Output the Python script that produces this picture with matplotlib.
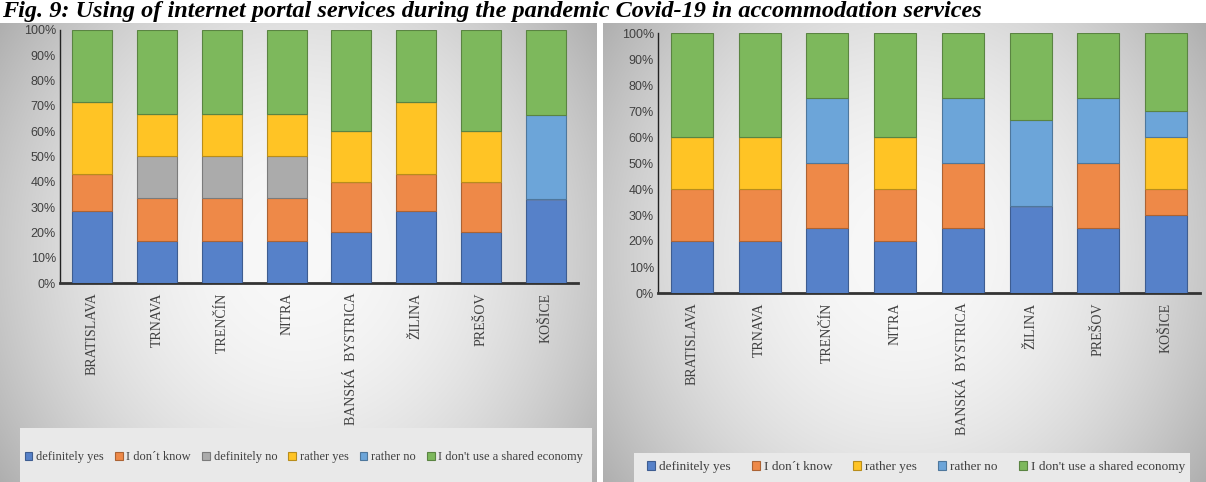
import numpy as np
import matplotlib
matplotlib.use("Agg")
import matplotlib.pyplot as plt
from matplotlib.patches import Rectangle
from matplotlib.colors import to_rgb

# ---------------- data ----------------
regions = ["BRATISLAVA", "TRNAVA", "TRENČÍN", "NITRA", "BANSKÁ  BYSTRICA",
           "ŽILINA", "PREŠOV", "KOŠICE"]

# left chart (percent)
left_definitely_yes = [28.6, 16.7, 16.7, 16.7, 20.0, 28.6, 20.0, 33.3]
left_dont_know      = [14.3, 16.7, 16.7, 16.7, 20.0, 14.3, 20.0, 0.0]
left_definitely_no  = [0.0, 16.7, 16.7, 16.7, 0.0, 0.0, 0.0, 0.0]
left_rather_yes     = [28.6, 16.7, 16.7, 16.7, 20.0, 28.6, 20.0, 0.0]
left_rather_no      = [0.0, 0.0, 0.0, 0.0, 0.0, 0.0, 0.0, 33.3]
left_dont_use       = [28.6, 33.3, 33.3, 33.3, 40.0, 28.6, 40.0, 33.3]

# right chart (percent)
right_definitely_yes = [20, 20, 25, 20, 25, 33.3, 25, 30]
right_dont_know      = [20, 20, 25, 20, 25, 0, 25, 10]
right_rather_yes     = [20, 20, 0, 20, 0, 0, 0, 20]
right_rather_no      = [0, 0, 25, 0, 25, 33.3, 25, 10]
right_dont_use       = [40, 40, 25, 40, 25, 33.3, 25, 30]

yticks = [0, 10, 20, 30, 40, 50, 60, 70, 80, 90, 100]
ytick_labels = [f"{v}%" for v in yticks]

title = "Fig. 9: Using of internet portal services during the pandemic Covid-19 in accommodation services"

# ---------------- style ----------------
C_BLUE = "#5681C9"
C_ORANGE = "#EE8948"
C_GRAY = "#ABABAB"
C_YELLOW = "#FFC425"
C_LBLUE = "#6CA5D9"
C_GREEN = "#7DB85C"

def darker(c, f=0.72):
    r, g, b = to_rgb(c)
    return (r * f, g * f, b * f)

W, H = 1206, 482
fig = plt.figure(figsize=(W / 100, H / 100), dpi=100)

# background with gradient panels
bg = fig.add_axes([0, 0, 1, 1])
bg.axis("off")

def panel(x0, x1, y0, y1):
    nx, ny = int(x1 - x0), int(y1 - y0)
    xs = np.linspace(-1, 1, nx)
    ys = np.linspace(-1, 1, ny)
    X, Y = np.meshgrid(xs, ys)
    r2 = (X * 1.0) ** 2 * 0.8 + (Y * 0.9) ** 2 * 0.5
    g = np.clip(0.975 - 0.24 * r2, 0, 1)
    img = np.dstack([g, g, g])
    bg.imshow(img, extent=[x0, x1, y1, y0], aspect="auto", zorder=0)

panel(0, 597, 23, 482)
panel(603, 1206, 23, 482)
bg.set_xlim(0, W)
bg.set_ylim(H, 0)

# legend boxes
bg.add_patch(Rectangle((20, 428), 572, 54, facecolor="#e9e9e9", edgecolor="none", zorder=1))
bg.add_patch(Rectangle((634, 453), 556, 29, facecolor="#e9e9e9", edgecolor="none", zorder=1))

fig.text(2 / W, 1 - 17 / H, title, fontsize=17.5, fontfamily="Liberation Serif",
         fontweight="bold", fontstyle="italic", va="baseline", ha="left", color="#000000")

def draw(ax_rect, series, names, colors):
    ax = fig.add_axes(ax_rect)
    ax.patch.set_alpha(0)
    x = np.arange(len(regions))
    bottom = np.zeros(len(regions))
    handles = []
    for vals, name, col in zip(series, names, colors):
        v = np.array(vals, dtype=float)
        b = ax.bar(x, v, 0.62, bottom=bottom, color=col, edgecolor=darker(col),
                   linewidth=0.8, label=name, zorder=3)
        handles.append(b)
        bottom += v
    ax.set_xlim(-0.5, len(regions) - 0.5)
    ax.set_ylim(0, 100)
    ax.set_yticks(yticks)
    ax.set_yticklabels(ytick_labels, fontsize=9, fontfamily="Liberation Sans", color="#404040")
    ax.set_xticks(x)
    ax.set_xticklabels(regions, rotation=90, fontsize=10, fontfamily="Liberation Serif",
                       color="#404040")
    ax.tick_params(axis="both", length=0)
    ax.tick_params(axis="y", pad=3)
    ax.tick_params(axis="x", pad=7)
    for s in ["top", "right"]:
        ax.spines[s].set_visible(False)
    ax.spines["left"].set_color("#222222")
    ax.spines["left"].set_linewidth(1.0)
    ax.spines["bottom"].set_color("#333333")
    ax.spines["bottom"].set_linewidth(2.0)
    return ax, handles

left_ax, lh = draw([60 / W, 1 - 283 / H, 518 / W, 253 / H],
                   [left_definitely_yes, left_dont_know, left_definitely_no,
                    left_rather_yes, left_rather_no, left_dont_use],
                   ["definitely yes", "I don´t know", "definitely no", "rather yes",
                    "rather no", "I don't use a shared economy"],
                   [C_BLUE, C_ORANGE, C_GRAY, C_YELLOW, C_LBLUE, C_GREEN])

right_ax, rh = draw([658 / W, 1 - 293 / H, 542 / W, 260 / H],
                    [right_definitely_yes, right_dont_know, right_rather_yes,
                     right_rather_no, right_dont_use],
                    ["definitely yes", "I don´t know", "rather yes", "rather no",
                     "I don't use a shared economy"],
                    [C_BLUE, C_ORANGE, C_YELLOW, C_LBLUE, C_GREEN])

legkw = dict(ncol=6, frameon=False, handlelength=0.6, handleheight=0.6,
             handletextpad=0.3, columnspacing=0.9, borderpad=0,
             prop={"family": "Liberation Serif", "size": 9}, labelcolor="#404040")
fig.legend(handles=lh, labels=[h.get_label() for h in lh], loc="center",
           bbox_to_anchor=(304 / W, 1 - 457 / H), **legkw)
legkw["ncol"] = 5
legkw["columnspacing"] = 1.6
legkw["prop"] = {"family": "Liberation Serif", "size": 9.5}
fig.legend(handles=rh, labels=[h.get_label() for h in rh], loc="center",
           bbox_to_anchor=(916 / W, 1 - 467 / H), **legkw)

fig.savefig("out.png", dpi=100)
